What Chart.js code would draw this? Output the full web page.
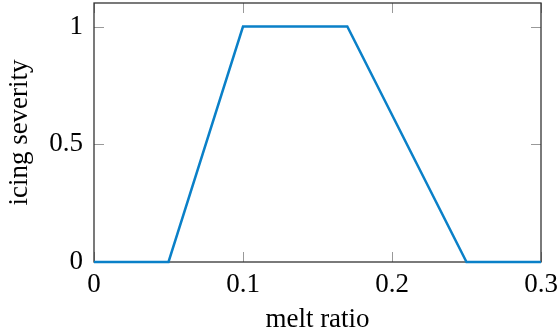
<!DOCTYPE html>
<html>
<head>
<meta charset="utf-8">
<script src="https://cdn.jsdelivr.net/npm/chart.js@4"></script>
<style>
    html, body { margin: 0; padding: 0; background: #fff; }
    #wrap { width: 559px; height: 331px; }
</style>
</head>
<body>
<div id="wrap"><canvas id="chart" width="559" height="331"></canvas></div>
<script>
// data
const meltRatio = [0, 0.05, 0.1, 0.17, 0.25, 0.3];
const severity = [0, 0, 1, 1, 0, 0];
const xTickValues = [0, 0.1, 0.2, 0.3];
const yTickValues = [0, 0.5, 1];

const serif = '"Liberation Serif", "DejaVu Serif", serif';

// box + inward ticks on all four sides, pgfplots style
const boxTicks = {
    id: 'boxTicks',
    beforeDatasetsDraw(c) {
        const { ctx, chartArea: a } = c;
        const xs = c.scales.x, ys = c.scales.y;
        const len = 10;
        ctx.save();
        ctx.strokeStyle = '#999';
        ctx.lineWidth = 1;
        ctx.beginPath();
        xTickValues.forEach(v => {
            const px = Math.round(xs.getPixelForValue(v)) + 0.5;
            ctx.moveTo(px, a.bottom); ctx.lineTo(px, a.bottom - len);
            ctx.moveTo(px, a.top); ctx.lineTo(px, a.top + len);
        });
        yTickValues.forEach(v => {
            const py = Math.round(ys.getPixelForValue(v)) + 0.5;
            ctx.moveTo(a.left, py); ctx.lineTo(a.left + len, py);
            ctx.moveTo(a.right, py); ctx.lineTo(a.right - len, py);
        });
        ctx.stroke();
        ctx.strokeStyle = '#333';
        ctx.lineWidth = 1.3;
        ctx.strokeRect(a.left, a.top, a.right - a.left, a.bottom - a.top);
        ctx.restore();
    }
};

const noPad = s => {
    s.paddingTop = 0; s.paddingBottom = 0;
    s.paddingLeft = 0; s.paddingRight = 0;
};

new Chart(document.querySelector('#chart').getContext('2d'), {
    type: 'line',
    data: {
        datasets: [{
            data: meltRatio.map((x, i) => ({ x: x, y: severity[i] })),
            borderColor: '#0a80c8',
            borderWidth: 2.5,
            pointRadius: 0,
            tension: 0,
            fill: false,
            clip: 4
        }]
    },
    options: {
        responsive: false,
        animation: false,
        layout: { padding: { top: 3, right: 18, left: 0, bottom: 0 } },
        plugins: { legend: { display: false }, tooltip: { enabled: false } },
        scales: {
            x: {
                type: 'linear',
                min: 0,
                max: 0.3,
                afterBuildTicks: s => { s.ticks = xTickValues.map(v => ({ value: v })); },
                afterFit: s => { s.height = 69; noPad(s); },
                grid: { display: false, drawTicks: false },
                border: { display: false },
                ticks: {
                    color: '#000',
                    padding: 7,
                    maxRotation: 0,
                    font: { family: serif, size: 27 },
                    callback: v => String(v)
                },
                title: {
                    display: true,
                    text: 'melt ratio',
                    color: '#000',
                    font: { family: serif, size: 27 },
                    padding: { top: 0, bottom: -5 }
                }
            },
            y: {
                min: 0,
                max: 1.1,
                afterBuildTicks: s => { s.ticks = yTickValues.map(v => ({ value: v })); },
                afterFit: s => { s.width = 94; noPad(s); },
                grid: { display: false, drawTicks: false },
                border: { display: false },
                ticks: {
                    color: '#000',
                    padding: 11,
                    font: { family: serif, size: 27 },
                    callback: v => String(v)
                },
                title: {
                    display: true,
                    text: 'icing severity',
                    color: '#000',
                    font: { family: serif, size: 27 },
                    padding: { top: 4, bottom: 0 }
                }
            }
        }
    },
    plugins: [boxTicks]
});
</script>
</body>
</html>
